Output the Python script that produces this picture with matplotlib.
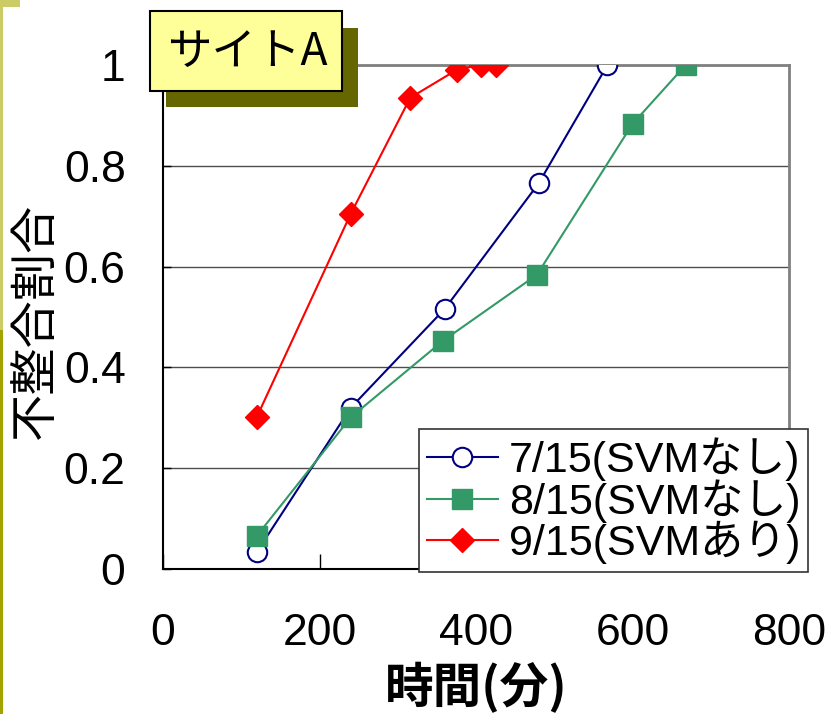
import matplotlib
matplotlib.use("Agg")
import matplotlib.pyplot as plt
from matplotlib.patches import Rectangle

# data: elapsed time [min] vs. ratio of mismatches
time_0715 = [120, 240, 360, 480, 568]
ratio_0715 = [0.034, 0.320, 0.516, 0.765, 1.0]
time_0815 = [120, 240, 358, 478, 600, 668]
ratio_0815 = [0.066, 0.301, 0.453, 0.584, 0.883, 1.0]
time_0915 = [120, 240, 316, 376, 406, 426]
ratio_0915 = [0.302, 0.705, 0.935, 0.991, 1.0, 1.0]
series_labels = ["7/15(SVMなし)", "8/15(SVMなし)", "9/15(SVMあり)"]
x_ticks = [0, 200, 400, 600, 800]
y_ticks = [0, 0.2, 0.4, 0.6, 0.8, 1]
y_tick_labels = ["0", "0.2", "0.4", "0.6", "0.8", "1"]

jp = ["Noto Sans CJK JP", "DejaVu Sans"]
num_font = ["Liberation Sans Narrow", "Liberation Sans"]
legend_font = ["Liberation Sans", "Noto Sans CJK JP"]

fig = plt.figure(figsize=(8.28, 7.14), dpi=100)
fig.patch.set_facecolor("white")
ax = fig.add_axes([163/828, 1-569/714, (789-163)/828, (569-65)/714])

ax.plot(time_0715, ratio_0715, color="#000080", lw=1.5, marker="o", ms=14,
        mfc="white", mec="#000080", mew=1.5, label=series_labels[0], zorder=3)
ax.plot(time_0815, ratio_0815, color="#339966", lw=1.5, marker="s", ms=14.5,
        mfc="#339966", mec="#339966", label=series_labels[1], zorder=3)
ax.plot(time_0915, ratio_0915, color="#ff0000", lw=1.5, marker="D", ms=12,
        mfc="#ff0000", mec="#ff0000", label=series_labels[2], zorder=3)

ax.set_xlim(0, 800)
ax.set_ylim(0, 1)
ax.set_xticks(x_ticks)
ax.set_yticks(y_ticks)
ax.set_yticklabels(y_tick_labels)
ax.yaxis.grid(True, color="#4d4d4d", lw=1.0)
ax.set_axisbelow(True)

ax.tick_params(axis="y", direction="in", length=6, width=1, pad=27)
ax.tick_params(axis="x", direction="in", length=11, width=1, pad=32)
for lab in ax.get_xticklabels() + ax.get_yticklabels():
    lab.set_family(num_font)
    lab.set_fontsize(32)

for side in ["left", "bottom"]:
    ax.spines[side].set_color("black")
    ax.spines[side].set_linewidth(1.5)
for side in ["top", "right"]:
    ax.spines[side].set_color("#808080")
    ax.spines[side].set_linewidth(2)

# axis titles
fig.text(36/828, 1-321/714, "不整合割合", rotation=90, ha="center", va="center",
         fontsize=34, family=jp)
fig.text(476/828, 1-688/714, "時間(分)", ha="center", va="center",
         fontsize=35, family=jp, fontweight="bold")

# legend box
leg = fig.legend(loc="lower right", bbox_to_anchor=(808/828, 142/714),
                 bbox_transform=fig.transFigure, borderaxespad=0,
                 prop={"family": legend_font, "size": 31}, fancybox=False,
                 framealpha=1, edgecolor="#333333", handlelength=1.65,
                 handletextpad=0.25, labelspacing=-0.04, borderpad=0.18)
leg.get_frame().set_linewidth(1.2)

# site tag with shadow
fig.patches.append(Rectangle((166/828, 1-107/714), 192/828, 79/714,
                             transform=fig.transFigure, facecolor="#666600",
                             edgecolor="none", zorder=5))
fig.patches.append(Rectangle((150/828, 1-91/714), 192/828, 80/714,
                             transform=fig.transFigure, facecolor="#ffff99",
                             edgecolor="black", lw=1.5, zorder=6))
fig.text(247/828, 1-52/714, "サイトA", ha="center", va="center",
         fontsize=32, family=jp, zorder=7)

# olive strip at the left edge
fig.patches.append(Rectangle((0, 1-330/714), 3/828, 330/714,
                             transform=fig.transFigure, facecolor="#cccc66",
                             edgecolor="none"))
fig.patches.append(Rectangle((0, 1-7/714), 20/828, 7/714,
                             transform=fig.transFigure, facecolor="#cccc66",
                             edgecolor="none"))
fig.patches.append(Rectangle((0, 0), 3/828, 384/714,
                             transform=fig.transFigure, facecolor="#a3a300",
                             edgecolor="none"))

fig.savefig("out.png", dpi=100)
